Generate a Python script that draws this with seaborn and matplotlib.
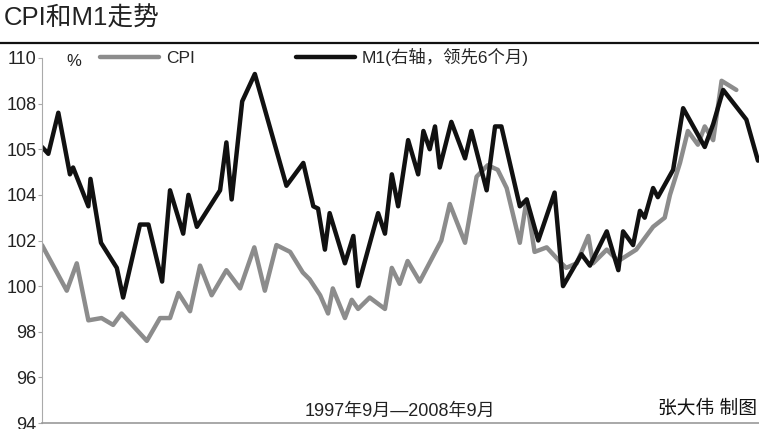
import matplotlib
matplotlib.use("Agg")
import matplotlib.pyplot as plt
import seaborn as sns
import pandas as pd

# 月份偏移（以1997年9月为0），读图估计
cpi_month = [0, 4.7, 6.6, 8.8, 11.3, 13.5, 15.1, 19.9, 22.4, 24.3, 25.9, 28.1, 30.0,
             32.2, 35.0, 37.6, 40.3, 42.3, 44.5, 47.1, 49.5, 50.8, 52.8, 54.3, 55.2,
             57.5, 58.8, 60.0, 62.2, 65.1, 66.4, 67.9, 69.4, 71.7, 75.8, 77.4, 80.3,
             82.5, 84.6, 86.5, 88.2, 90.7, 92.0, 93.5, 95.8, 98.6, 99.5, 101.5, 103.7,
             104.6, 107.2, 109.4, 112.8, 116.0, 118.2, 119.2, 121.1, 122.6, 124.5,
             125.8, 127.4, 129.0, 131.8]
cpi_value = [101.8, 99.8, 101.0, 98.5, 98.6, 98.3, 98.8, 97.6, 98.6, 98.6, 99.7,
             98.9, 100.9, 99.6, 100.7, 99.9, 101.7, 99.8, 101.8, 101.5, 100.6, 100.3,
             99.6, 98.8, 99.9, 98.6, 99.4, 99.0, 99.5, 99.0, 100.8, 100.1, 101.1, 100.2,
             102.0, 103.6, 101.9, 104.8, 105.3, 105.1, 104.3, 101.9, 103.8, 101.5,
             101.7, 101.0, 100.8, 101.0, 102.2, 101.0, 101.6, 101.1, 101.6, 102.6,
             103.0, 104.0, 105.4, 106.8, 106.2, 107.0, 106.4, 109.0, 108.6]

m1_month = [0, 1.2, 3.1, 5.3, 5.9, 8.8, 9.2, 11.2, 14.2, 15.4, 18.6, 20.2, 22.8, 24.3,
            26.8, 27.8, 29.4, 33.8, 35.0, 36.0, 38.0, 40.4, 46.4, 49.6, 51.5, 52.4,
            53.7, 54.6, 57.5, 59.1, 60.0, 61.3, 63.8, 65.1, 66.4, 67.6, 69.5, 71.4,
            72.4, 73.6, 74.6, 75.5, 77.7, 80.3, 81.5, 84.4, 86.0, 87.2, 90.7, 92.0,
            94.2, 97.3, 98.9, 102.4, 104.0, 107.2, 109.4, 110.3, 112.2, 113.5, 114.4,
            116.0, 116.9, 119.8, 121.7, 125.8, 127.4, 129.3, 133.7, 135.9]
m1_value = [106.1, 105.8, 107.6, 104.9, 105.2, 103.5, 104.7, 101.9, 100.8, 99.5, 102.7,
            102.7, 100.2, 104.2, 102.3, 104.0, 102.6, 104.2, 106.3, 103.8, 108.1, 109.3,
            104.4, 105.4, 103.5, 103.4, 101.6, 103.2, 101.0, 102.2, 100.0, 101.1, 103.2,
            102.3, 104.9, 103.5, 106.4, 104.9, 106.8, 106.0, 107.0, 105.2, 107.2, 105.6,
            106.8, 104.2, 107.0, 107.0, 103.5, 103.8, 102.0, 104.1, 100.0, 101.4, 100.9,
            102.4, 100.7, 102.4, 101.8, 103.3, 103.0, 104.3, 103.9, 105.1, 107.8, 106.1,
            107.1, 108.6, 107.3, 105.5]

ytick_values = [94, 96, 98, 100, 102, 104, 106, 108, 110]
ytick_labels = ["94", "96", "98", "100", "102", "104", "105", "108", "110"]

title = "CPI和M1走势"
period = "1997年9月—2008年9月"
credit = "张大伟 制图"

sns.set_style("ticks")
plt.rcParams["font.family"] = ["Liberation Sans", "Noto Sans CJK SC", "DejaVu Sans"]

cpi = pd.DataFrame({"month": cpi_month, "value": cpi_value})
m1 = pd.DataFrame({"month": m1_month, "value": m1_value})

fig = plt.figure(figsize=(7.59, 4.29), dpi=100)
ax = fig.add_axes([42 / 759, 1 - 423 / 429, 1 - 42 / 759, (423 - 58) / 429])

sns.lineplot(data=cpi, x="month", y="value", ax=ax, color="#8c8c8c", lw=3.2,
             label="CPI", sort=False)
sns.lineplot(data=m1, x="month", y="value", ax=ax, color="#111111", lw=3.2,
             label="M1(右轴，领先6个月)", sort=False)

ax.set_xlim(0, 136.1)
ax.set_ylim(94, 110)
ax.set_yticks(ytick_values)
ax.set_yticklabels(ytick_labels, fontsize=13, color="#222222")
ax.set_xticks([])
ax.set_xlabel("")
ax.set_ylabel("")
ax.tick_params(axis="y", length=3, width=0.8, color="#aaaaaa", pad=1)
for s in ["top", "right"]:
    ax.spines[s].set_visible(False)
ax.spines["left"].set_color("#aaaaaa")
ax.spines["left"].set_linewidth(0.8)
ax.spines["bottom"].set_color("#999999")
ax.spines["bottom"].set_linewidth(1.2)

ax.legend(loc="upper left", bbox_to_anchor=(100 / 759, 1 - 48 / 429),
          bbox_transform=fig.transFigure, ncol=2, frameon=False, fontsize=12.5,
          handlelength=3.4, handletextpad=0.4, columnspacing=5.8,
          borderaxespad=0, borderpad=0)

fig.text(66 / 759, 1 - 62 / 429, "%", fontsize=12, va="center", ha="left", color="#222222")
fig.text(4 / 759, 1 - 19 / 429, title, fontsize=18.5, va="center", ha="left", color="#222222")
fig.add_artist(plt.Line2D([0, 1], [1 - 43 / 429, 1 - 43 / 429], color="#111111", lw=1.6,
                          transform=fig.transFigure))
fig.text(400 / 759, 1 - 411 / 429, period, fontsize=13, va="center", ha="center", color="#222222")
fig.text(757 / 759, 1 - 409 / 429, credit, fontsize=13.5, va="center", ha="right",
         color="#111111")

fig.savefig("out.png", dpi=100)
